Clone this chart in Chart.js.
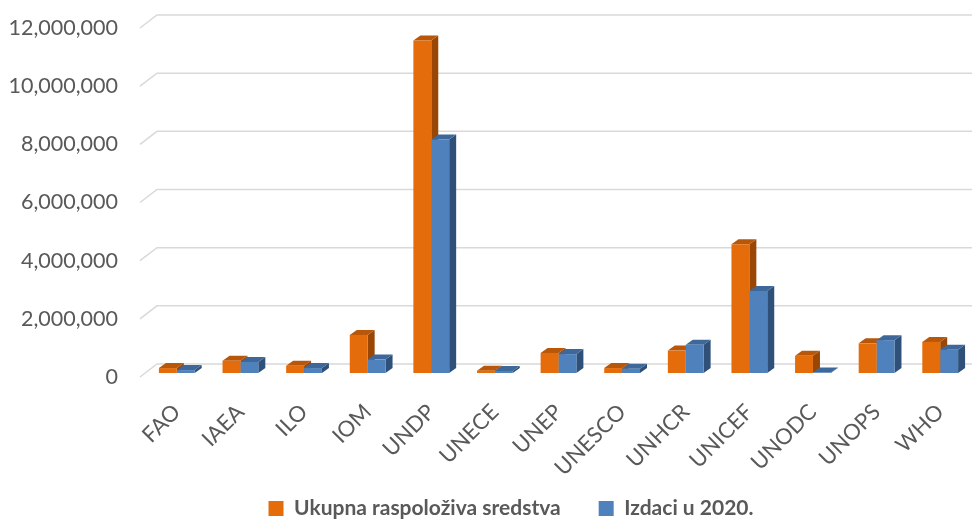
<!DOCTYPE html>
<html>
<head>
<meta charset="utf-8">
<script src="https://cdn.jsdelivr.net/npm/chart.js@4.4.1/dist/chart.umd.min.js"></script>
<style>
  html, body { margin: 0; padding: 0; background: #ffffff; }
  #wrap { width: 972px; height: 527px; }
</style>
</head>
<body>
<div id="wrap"><canvas id="c" width="972" height="527"></canvas></div>
<script>
const categories = ["FAO", "IAEA", "ILO", "IOM", "UNDP", "UNECE", "UNEP", "UNESCO", "UNHCR", "UNICEF", "UNODC", "UNOPS", "WHO"];
const seriesNames = ["Ukupna raspoloživa sredstva", "Izdaci u 2020."];
const totalFunds = [170000, 420000, 250000, 1310000, 11430000, 80000, 690000, 170000, 770000, 4430000, 590000, 1020000, 1070000];
const spending2020 = [100000, 380000, 170000, 460000, 8030000, 70000, 650000, 150000, 970000, 2820000, 20000, 1130000, 800000];
const yTicks = [0, 2000000, 4000000, 6000000, 8000000, 10000000, 12000000];

const FRONT = ["#E46C0A", "#4F81BD"];
const TOP = ["#B85709", "#3E689A"];
const SIDE = ["#9A4705", "#2F5179"];
const DX = 7, DY = 5;

const fmt = v => Number(v).toLocaleString('en-US');

const depthPlugin = {
  id: 'depth',
  afterLayout(chart) {
    const lg = chart.legend;
    if (lg) { lg.left += 25; lg.right += 25; lg.top += 2; lg.bottom += 2; }
    if (chart.scales.x) { chart.scales.x.bottom = chart.height; }
  },
  beforeDatasetsDraw(chart) {
    const ctx = chart.ctx;
    const area = chart.chartArea;
    const ys = chart.scales.y;
    ctx.save();
    ctx.strokeStyle = '#D9D9D9';
    ctx.lineWidth = 1.5;
    yTicks.forEach(v => {
      const yb = ys.getPixelForValue(v);
      ctx.beginPath();
      ctx.moveTo(area.left - 5, yb + 4);
      ctx.lineTo(area.left + 12, yb - 9);
      ctx.lineTo(area.right, yb - 9);
      ctx.stroke();
    });
    chart.data.datasets.forEach((ds, di) => {
      const meta = chart.getDatasetMeta(di);
      meta.data.forEach(bar => {
        const p = bar.getProps(['x', 'y', 'base', 'width'], true);
        const L = p.x - p.width / 2, R = p.x + p.width / 2;
        const T = Math.min(p.y, p.base), B = Math.max(p.y, p.base);
        ctx.fillStyle = SIDE[di];
        ctx.beginPath();
        ctx.moveTo(R, T); ctx.lineTo(R + DX, T - DY); ctx.lineTo(R + DX, B - DY); ctx.lineTo(R, B);
        ctx.closePath(); ctx.fill();
        ctx.fillStyle = TOP[di];
        ctx.beginPath();
        ctx.moveTo(L, T); ctx.lineTo(R, T); ctx.lineTo(R + DX, T - DY); ctx.lineTo(L + DX, T - DY);
        ctx.closePath(); ctx.fill();
      });
    });
    ctx.restore();
  }
};

new Chart(document.getElementById('c'), {
  type: 'bar',
  data: {
    labels: categories,
    datasets: [
      { label: seriesNames[0], data: totalFunds, backgroundColor: FRONT[0], borderWidth: 0 },
      { label: seriesNames[1], data: spending2020, backgroundColor: FRONT[1], borderWidth: 0 }
    ]
  },
  options: {
    responsive: false,
    animation: false,
    devicePixelRatio: 1,
    layout: { padding: { top: 24, right: 0, bottom: 0, left: 0 } },
    datasets: { bar: { categoryPercentage: 0.5625, barPercentage: 1.0 } },
    scales: {
      x: {
        grid: { display: false, drawTicks: false },
        border: { display: false },
        ticks: {
          autoSkip: false, maxRotation: 45, minRotation: 45, padding: 26,
          color: '#595959', font: { family: 'Lato', size: 22 }
        },
        afterFit(s) { s.height = 85; s.paddingLeft = 0; s.paddingRight = 0; }
      },
      y: {
        min: 0, max: 12000000,
        grid: { display: false, drawTicks: false },
        border: { display: false },
        afterBuildTicks(s) { s.ticks = yTicks.map(v => ({ value: v })); },
        ticks: {
          padding: 27, labelOffset: 4,
          color: '#595959', font: { family: 'Lato', size: 21.5 },
          callback: v => fmt(v)
        },
        afterFit(s) { s.width = 145; s.paddingTop = 0; s.paddingBottom = 0; }
      }
    },
    plugins: {
      tooltip: { enabled: false },
      legend: {
        position: 'bottom',
        labels: {
          boxWidth: 15, boxHeight: 15, padding: 38,
          color: '#595959', font: { family: 'Lato', size: 21, weight: 'bold' }
        }
      }
    }
  },
  plugins: [depthPlugin]
});
</script>
</body>
</html>
